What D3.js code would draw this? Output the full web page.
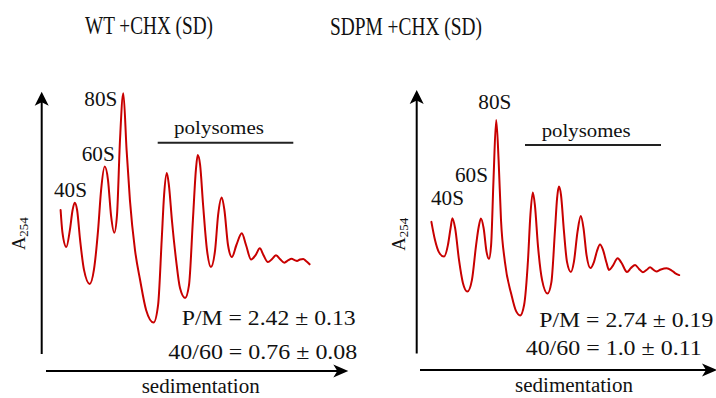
<!DOCTYPE html>
<html>
<head>
<meta charset="utf-8">
<script src="https://cdn.jsdelivr.net/npm/d3@7"></script>
<style>
  html, body { margin: 0; padding: 0; background: #fff; }
  svg { display: block; }
  text { font-family: "Liberation Serif", "Times New Roman", serif; fill: #111; }
</style>
</head>
<body>
<svg id="chart" width="716" height="398"></svg>
<script>
// Polysome profiles: gradient position (% of gradient) vs. A254 (a.u.)
const wtPos = [6.3,6.9,8.2,9.4,10.3,11.0,11.8,12.8,14.1,16.0,
  17.4,18.8,19.8,21.0,22.1,23.1,24.2,25.1,26.1,27.2,
  28.3,29.4,31.1,32.8,34.8,37.3,38.8,40.0,40.8,41.7,
  42.4,43.4,44.8,46.1,47.8,49.1,50.4,51.4,52.0,52.8,
  53.8,55.1,56.4,57.8,58.8,60.0,60.9,62.1,63.4,64.9,
  66.7,68.1,69.8,71.3,72.7,73.9,75.4,76.8,78.1,79.4,
  80.9,82.1,83.3,84.3,85.1,86.1,87.2,88.1,89.3];
const wtA254 = [0.575,0.496,0.443,0.504,0.575,0.601,0.575,0.468,0.361,0.311,
  0.361,0.504,0.646,0.730,0.682,0.557,0.494,0.557,0.825,0.992,
  0.789,0.611,0.432,0.325,0.218,0.173,0.236,0.468,0.629,0.707,
  0.664,0.539,0.396,0.296,0.261,0.307,0.539,0.718,0.771,0.736,
  0.593,0.432,0.371,0.432,0.557,0.620,0.575,0.450,0.407,0.450,
  0.492,0.450,0.398,0.414,0.438,0.414,0.389,0.400,0.413,0.400,
  0.387,0.395,0.401,0.396,0.393,0.398,0.400,0.393,0.381];

const sdpmPos = [4.9,6.1,7.4,9.1,10.4,11.3,11.9,12.8,14.1,15.4,
  16.9,18.4,19.8,20.6,21.4,22.3,23.3,24.1,24.8,25.6,
  26.5,27.3,28.1,29.4,31.6,33.1,34.5,35.8,37.1,37.9,
  38.7,39.4,40.4,41.8,43.6,44.9,46.1,46.8,47.4,48.1,
  49.1,50.1,51.4,52.4,53.6,54.7,55.6,56.6,57.9,59.1,
  60.1,61.1,62.1,63.3,64.1,65.3,67.0,68.3,70.1,71.4,
  72.8,74.1,75.4,76.6,77.8,78.8,79.9,81.4,83.3,84.8,
  86.1,87.5];
const sdpmA254 = [0.529,0.464,0.421,0.405,0.446,0.507,0.542,0.507,0.393,0.311,
  0.280,0.321,0.446,0.507,0.541,0.507,0.421,0.397,0.446,0.679,
  0.893,0.750,0.536,0.386,0.268,0.211,0.195,0.232,0.393,0.554,
  0.634,0.589,0.446,0.321,0.273,0.314,0.500,0.614,0.655,0.625,
  0.493,0.386,0.350,0.386,0.493,0.550,0.507,0.411,0.364,0.386,
  0.425,0.448,0.429,0.382,0.357,0.371,0.399,0.382,0.350,0.364,
  0.375,0.361,0.349,0.357,0.367,0.359,0.352,0.359,0.363,0.357,
  0.346,0.339];

const titles = ["WT +CHX (SD)", "SDPM +CHX (SD)"];
const peakLabels = ["40S", "60S", "80S"];
const pmText = ["P/M = 2.42 \u00b1 0.13", "P/M = 2.74 \u00b1 0.19"];
const ratioText = ["40/60 = 0.76 \u00b1 0.08", "40/60 = 1.0 \u00b1 0.11"];
const xLabel = "sedimentation";
const polyLabel = "polysomes";

const svg = d3.select("#chart");

// per-panel layout
const panels = [
  {
    pos: wtPos, abs: wtA254, title: titles[0], pm: pmText[0], ratio: ratioText[0],
    ox: 41.7, oy: 371, yTop: 91.7, yBot: 354, xStart: 46, xEnd: 348.3,
    titleX: 85, titleY: 33.5, titleW: 128,
    peaks: [[54, 197.3], [81.7, 161], [84.3, 106]],
    poly: { x0: 157.7, x1: 293.3, y: 142.7, tx: 174, ty: 133.5, tw: 90 },
    pmPos: [181.7, 325, 174], ratioPos: [168.3, 358.5, 189],
    sedPos: [141.7, 393, 118],
    aPos: [25, 250]
  },
  {
    pos: sdpmPos, abs: sdpmA254, title: titles[1], pm: pmText[1], ratio: ratioText[1],
    ox: 416.7, oy: 370, yTop: 90, yBot: 353.5, xStart: 420, xEnd: 717,
    titleX: 330, titleY: 34.5, titleW: 152,
    peaks: [[431, 205], [455, 181.7], [478.3, 109.3]],
    poly: { x0: 525, x1: 661, y: 145, tx: 541.7, ty: 136.5, tw: 89 },
    pmPos: [539.3, 326.7, 174], ratioPos: [525.7, 355, 176],
    sedPos: [515, 391.7, 118],
    aPos: [405, 250.7]
  }
];

panels.forEach(p => {
  const g = svg.append("g");

  const x = d3.scaleLinear().domain([0, 100]).range([p.ox, p.ox + 300]);
  const y = d3.scaleLinear().domain([0, 1]).range([p.oy, p.oy - 280]);

  // axes as arrows
  g.append("line")
    .attr("x1", p.ox).attr("x2", p.ox)
    .attr("y1", p.yBot).attr("y2", p.yTop + 8)
    .attr("stroke", "#000").attr("stroke-width", 2);
  g.append("path")
    .attr("d", `M${p.ox},${p.yTop} L${p.ox - 7},${p.yTop + 14} L${p.ox},${p.yTop + 10.5} L${p.ox + 7},${p.yTop + 14} Z`)
    .attr("fill", "#000");

  g.append("line")
    .attr("x1", p.xStart).attr("x2", p.xEnd - 8)
    .attr("y1", p.oy).attr("y2", p.oy)
    .attr("stroke", "#000").attr("stroke-width", 2);
  g.append("path")
    .attr("d", `M${p.xEnd},${p.oy} L${p.xEnd - 15},${p.oy - 6.5} L${p.xEnd - 11},${p.oy} L${p.xEnd - 15},${p.oy + 6.5} Z`)
    .attr("fill", "#000");

  // profile trace
  const pts = p.pos.map((v, i) => [v, p.abs[i]]);
  const line = d3.line()
    .x(d => x(d[0]))
    .y(d => y(d[1]))
    .curve(d3.curveMonotoneX);
  g.append("path")
    .datum(pts)
    .attr("d", line)
    .attr("fill", "none")
    .attr("stroke", "#c80000")
    .attr("stroke-width", 2)
    .attr("stroke-linejoin", "round")
    .attr("stroke-linecap", "round");

  // title
  g.append("text")
    .attr("x", p.titleX).attr("y", p.titleY)
    .attr("font-size", 26)
    .attr("textLength", p.titleW).attr("lengthAdjust", "spacingAndGlyphs")
    .text(p.title);

  // peak labels
  peakLabels.forEach((lab, i) => {
    g.append("text")
      .attr("x", p.peaks[i][0]).attr("y", p.peaks[i][1])
      .attr("font-size", 20)
      .attr("textLength", 33).attr("lengthAdjust", "spacingAndGlyphs")
      .text(lab);
  });

  // polysome bracket
  g.append("line")
    .attr("x1", p.poly.x0).attr("x2", p.poly.x1)
    .attr("y1", p.poly.y).attr("y2", p.poly.y)
    .attr("stroke", "#222").attr("stroke-width", 2);
  g.append("text")
    .attr("x", p.poly.tx).attr("y", p.poly.ty)
    .attr("font-size", 19.5)
    .attr("textLength", p.poly.tw).attr("lengthAdjust", "spacingAndGlyphs")
    .text(polyLabel);

  // ratios
  g.append("text")
    .attr("x", p.pmPos[0]).attr("y", p.pmPos[1])
    .attr("font-size", 22)
    .attr("textLength", p.pmPos[2]).attr("lengthAdjust", "spacingAndGlyphs")
    .text(p.pm);
  g.append("text")
    .attr("x", p.ratioPos[0]).attr("y", p.ratioPos[1])
    .attr("font-size", 22)
    .attr("textLength", p.ratioPos[2]).attr("lengthAdjust", "spacingAndGlyphs")
    .text(p.ratio);

  // x label
  g.append("text")
    .attr("x", p.sedPos[0]).attr("y", p.sedPos[1])
    .attr("font-size", 20.5)
    .attr("textLength", p.sedPos[2]).attr("lengthAdjust", "spacingAndGlyphs")
    .text(xLabel);

  // y label A254
  const yl = g.append("text")
    .attr("transform", `translate(${p.aPos[0]},${p.aPos[1]}) rotate(-90)`)
    .attr("font-size", 18.5)
    .attr("fill", "#333");
  yl.append("tspan").text("A");
  yl.append("tspan").attr("font-size", 13).attr("dy", 3).text("254");
});
</script>
</body>
</html>
